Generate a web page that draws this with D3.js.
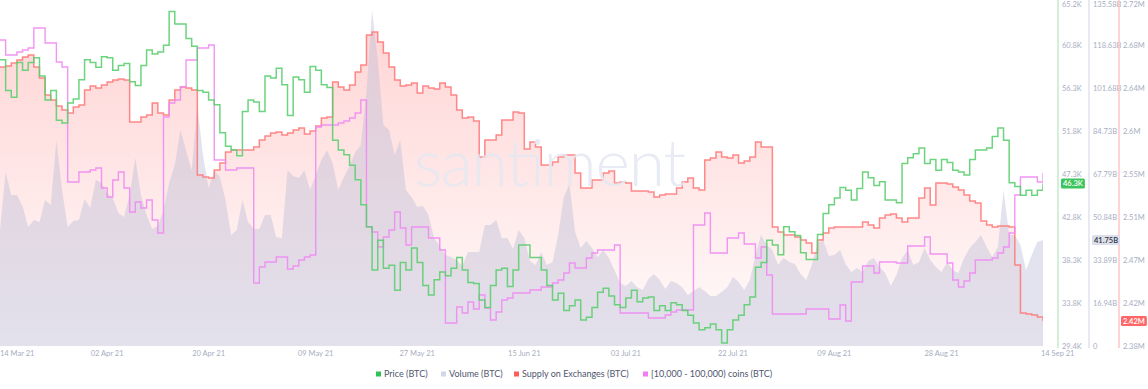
<!DOCTYPE html>
<html><head><meta charset="utf-8">
<script src="https://cdn.jsdelivr.net/npm/d3@7"></script>
<style>
html,body{margin:0;padding:0;background:#fff;}
svg{display:block;font-family:Lato,"Open Sans",sans-serif;}
</style></head><body>
<svg id="chart" width="1148" height="389"></svg>
<script>
// ---------- DATA ----------
const startDate = "2021-03-14";
const seriesNames = ["Price (BTC)", "Volume (BTC)", "Supply on Exchanges (BTC)", "[10,000 - 100,000) coins (BTC)"];

// Price, thousands USD
const price = [59.2,56.0,55.3,58.9,58.1,58.9,59.4,57.5,55.0,56.0,
52.9,52.6,54.7,55.1,57.1,59.2,58.9,58.4,59.5,59.4,
58.1,58.6,58.8,56.9,56.5,58.6,60.2,59.8,60.0,60.7,
64.2,62.9,62.9,61.4,60.6,56.0,55.8,55.0,54.5,51.6,
50.2,49.8,49.2,53.8,55.0,54.8,53.8,57.5,57.3,58.3,
56.6,53.4,57.4,57.1,55.8,58.5,58.1,56.6,56.3,50.8,
49.8,49.3,48.2,46.7,44.1,41.8,37.3,40.4,37.5,37.8,
35.2,38.1,37.3,39.6,38.1,35.7,34.7,36.3,37.1,36.7,
37.5,38.6,37.3,36.0,35.9,34.2,33.4,35.7,37.3,37.5,
35.6,37.3,39.9,39.9,38.6,38.6,37.3,35.7,34.2,34.9,
33.1,33.6,34.2,32.1,32.4,33.4,35.0,35.4,34.6,33.7,
33.4,34.4,35.2,34.0,34.4,34.5,33.1,33.6,33.1,33.9,
33.7,33.1,32.6,31.8,31.1,31.3,31.7,31.1,29.7,31.1,
32.1,32.6,33.7,34.5,37.6,38.1,40.4,39.9,38.9,41.8,
41.3,40.9,39.1,38.4,38.4,41.0,43.2,44.1,44.8,45.9,
45.6,44.6,45.8,47.5,46.9,46.1,46.5,44.6,44.6,44.3,
48.4,49.0,49.4,50.0,48.4,48.8,47.7,48.8,48.5,47.7,
47.5,47.2,48.8,49.8,49.8,50.0,51.2,52.1,50.8,46.4,
46.0,45.1,45.6,45.1,45.6,46.3];

// Volume, billions
const volume = [45.7,68.6,59.5,59.5,55.2,46.9,49.7,48.9,57.5,55.6,
81.2,61.5,46.9,49.3,49.7,57.9,54.4,65.4,64.2,60.3,
58.3,52.4,50.8,59.5,74.1,59.5,51.6,46.1,47.3,53.6,
64.2,71.3,85.1,77.2,69.3,95.0,75.3,62.3,69.3,66.6,
57.5,43.7,45.7,57.5,48.9,46.1,46.1,51.6,51.6,42.9,
42.6,69.3,67.0,66.2,69.3,61.5,67.4,73.3,77.2,72.1,
61.5,66.6,70.9,76.4,79.2,100.1,132.4,112.7,87.1,85.1,
75.3,81.2,61.5,58.7,54.8,55.2,51.6,42.6,39.4,35.9,
35.1,33.9,31.5,37.0,37.0,37.0,47.7,47.7,49.7,42.6,
42.6,38.2,45.7,42.6,33.5,31.9,37.0,31.9,33.1,43.7,
58.7,63.8,44.9,38.6,41.4,38.6,35.1,37.8,34.7,29.9,
24.8,23.6,25.6,23.2,22.1,26.4,28.4,26.0,22.5,25.6,
24.8,23.2,20.1,21.7,23.2,21.7,19.7,19.7,21.3,23.2,
27.2,25.2,22.1,26.0,35.9,43.7,39.8,37.8,31.9,34.7,
33.1,32.3,28.4,26.0,31.9,40.6,41.8,35.5,35.9,37.8,
32.3,29.2,30.7,29.2,33.5,34.7,31.1,28.8,23.6,28.0,
34.7,37.8,31.9,33.1,38.6,33.9,31.1,29.2,33.1,29.9,
28.8,34.7,38.6,41.0,43.7,39.0,35.1,39.0,61.5,43.7,
43.7,39.8,29.9,35.9,41.0,41.75];

// Supply on exchanges, millions
const supply = [2.659,2.660,2.663,2.666,2.669,2.671,2.659,2.648,2.631,2.626,
2.620,2.616,2.613,2.619,2.621,2.636,2.640,2.638,2.641,2.644,
2.646,2.647,2.646,2.604,2.604,2.609,2.611,2.623,2.613,2.611,
2.626,2.636,2.639,2.638,2.636,2.551,2.549,2.548,2.556,2.563,
2.574,2.576,2.576,2.576,2.576,2.579,2.586,2.590,2.593,2.594,
2.591,2.593,2.596,2.598,2.592,2.595,2.600,2.608,2.609,2.644,
2.639,2.636,2.641,2.654,2.661,2.691,2.694,2.684,2.673,2.659,
2.646,2.640,2.641,2.643,2.633,2.640,2.638,2.637,2.643,2.639,
2.631,2.616,2.608,2.609,2.605,2.569,2.586,2.586,2.591,2.606,
2.606,2.614,2.613,2.577,2.584,2.579,2.561,2.561,2.564,2.569,
2.571,2.571,2.553,2.538,2.538,2.546,2.546,2.553,2.555,2.543,
2.544,2.543,2.535,2.535,2.535,2.534,2.529,2.531,2.532,2.532,
2.538,2.544,2.548,2.538,2.536,2.566,2.568,2.574,2.569,2.568,
2.571,2.563,2.565,2.569,2.584,2.579,2.579,2.499,2.494,2.491,
2.491,2.489,2.486,2.483,2.473,2.486,2.493,2.498,2.499,2.499,
2.499,2.499,2.499,2.504,2.501,2.498,2.508,2.511,2.512,2.508,
2.504,2.508,2.508,2.528,2.538,2.521,2.543,2.543,2.542,2.539,
2.536,2.531,2.525,2.523,2.505,2.501,2.499,2.500,2.500,2.499,
2.461,2.413,2.412,2.411,2.409,2.405];

// [10,000 - 100,000) coins holdings, millions
const whales = [2.306,2.291,2.291,2.294,2.296,2.298,2.318,2.318,2.303,2.303,
2.284,2.279,2.164,2.164,2.174,2.174,2.176,2.178,2.158,2.149,
2.166,2.174,2.158,2.134,2.144,2.138,2.146,2.126,2.113,2.229,
2.243,2.246,2.259,2.286,2.286,2.298,2.298,2.301,2.186,2.186,
2.176,2.176,2.178,2.178,2.178,2.063,2.079,2.084,2.084,2.089,
2.089,2.077,2.080,2.086,2.089,2.091,2.219,2.221,2.221,2.221,
2.223,2.225,2.228,2.233,2.246,2.119,2.114,2.099,2.109,2.116,
2.134,2.118,2.101,2.119,2.119,2.119,2.108,2.108,2.096,2.023,
2.023,2.039,2.033,2.044,2.037,2.051,2.038,2.026,2.034,2.046,
2.048,2.053,2.053,2.053,2.056,2.056,2.059,2.059,2.063,2.066,
2.073,2.083,2.078,2.078,2.088,2.093,2.096,2.096,2.096,2.101,
2.033,2.033,2.033,2.033,2.033,2.028,2.028,2.028,2.031,2.034,
2.036,2.036,2.036,2.121,2.121,2.133,2.093,2.093,2.093,2.108,
2.108,2.113,2.102,2.102,2.088,2.099,2.071,2.032,2.032,2.032,
2.032,2.032,2.032,2.037,2.037,2.037,2.037,2.027,2.027,2.041,
2.025,2.064,2.064,2.080,2.080,2.073,2.084,2.084,2.084,2.083,
2.083,2.100,2.100,2.100,2.109,2.092,2.092,2.092,2.083,2.066,
2.059,2.065,2.073,2.086,2.086,2.086,2.088,2.093,2.099,2.113,
2.151,2.169,2.169,2.169,2.164,2.173];

const xTickDates = ["2021-03-14","2021-04-02","2021-04-20","2021-05-09","2021-05-27","2021-06-15","2021-07-03","2021-07-22","2021-08-09","2021-08-28","2021-09-14"];
const xTickLabels = ["14 Mar 21","02 Apr 21","20 Apr 21","09 May 21","27 May 21","15 Jun 21","03 Jul 21","22 Jul 21","09 Aug 21","28 Aug 21","14 Sep 21"];

const priceTicks = [29.4,33.875,38.35,42.825,47.3,51.775,56.25,60.725,65.2];
const priceTickLabels = ["29.4K","33.8K","38.3K","42.8K","47.3K","51.8K","56.3K","60.8K","65.2K"];
const volumeTicks = [0,16.9475,33.895,50.8425,67.79,84.7375,101.685,118.6325,135.58];
const volumeTickLabels = ["0","16.94B","33.89B","50.84B","67.79B","84.73B","101.68B","118.63B","135.58B"];
const supplyTicks = [2.38,2.423,2.466,2.509,2.552,2.595,2.638,2.681,2.724];
const supplyTickLabels = ["2.38M","2.42M","2.47M","2.51M","2.55M","2.6M","2.64M","2.68M","2.72M"];
const lastLabels = ["46.3K","41.75B","2.42M"];

// ---------- LAYOUT ----------
const W = 1148, H = 389;
const plot = {left: 0, right: 1043, top: 2, bottom: 346};
const colors = {price: "#5ccf70", volume: "#d3d5e6", supply: "#ff7474", whales: "#f08af3"};

const svg = d3.select("#chart");
const parse = d3.timeParse("%Y-%m-%d");
const t0 = parse(startDate);
const dates = price.map((_, i) => d3.timeDay.offset(t0, i));
const rows = dates.map((d, i) => ({date: d, price: price[i], volume: volume[i], supply: supply[i], whales: whales[i]}));

const x = d3.scaleTime().domain([dates[0], dates[dates.length - 1]]).range([plot.left, plot.right]);
const yPrice = d3.scaleLinear().domain([priceTicks[0], priceTicks[priceTicks.length-1]]).range([plot.bottom, plot.top]);
const yVol = d3.scaleLinear().domain([0, volumeTicks[volumeTicks.length-1]]).range([plot.bottom, plot.top]);
const ySup = d3.scaleLinear().domain([supplyTicks[0], supplyTicks[supplyTicks.length-1]]).range([plot.bottom, plot.top]);
const yWh = d3.scaleLinear().domain([2.0, 2.344]).range([plot.bottom, plot.top]);

const defs = svg.append("defs");
const grad = defs.append("linearGradient").attr("id", "supGrad")
  .attr("gradientUnits", "userSpaceOnUse").attr("x1", 0).attr("x2", 0).attr("y1", plot.top).attr("y2", plot.bottom);
grad.append("stop").attr("offset", "0%").attr("stop-color", "#ff6b6b").attr("stop-opacity", 0.30);
grad.append("stop").attr("offset", "60%").attr("stop-color", "#ff6b6b").attr("stop-opacity", 0.14);
grad.append("stop").attr("offset", "100%").attr("stop-color", "#ff6b6b").attr("stop-opacity", 0.02);
defs.append("clipPath").attr("id", "plotClip").append("rect")
  .attr("x", plot.left).attr("y", 0).attr("width", plot.right - plot.left).attr("height", plot.bottom);

const g = svg.append("g").attr("clip-path", "url(#plotClip)");

// supply fill
g.append("path").datum(rows)
  .attr("d", d3.area().curve(d3.curveStepAfter).x(d => x(d.date)).y0(plot.bottom).y1(d => ySup(d.supply)))
  .attr("fill", "url(#supGrad)");

// volume area
g.append("path").datum(rows)
  .attr("d", d3.area().curve(d3.curveLinear).x(d => x(d.date)).y0(plot.bottom).y1(d => yVol(d.volume)))
  .attr("fill", "#b9bcd6").attr("fill-opacity", 0.42);

// watermark
svg.append("text").attr("x", 414).attr("y", 186).attr("font-size", 66).attr("font-weight", 300)
  .attr("textLength", 272).attr("fill", "#e4e7f1").attr("fill-opacity", 0.85)
  .attr("font-family", "Lato, sans-serif").text("santiment");

// lines
const stepLine = key => d3.line().curve(d3.curveStepAfter).x(d => x(d.date)).y(d => key(d));
g.append("path").datum(rows).attr("d", stepLine(d => ySup(d.supply)))
  .attr("fill", "none").attr("stroke", colors.supply).attr("stroke-width", 1.5).attr("stroke-opacity", 0.85);
g.append("path").datum(rows).attr("d", stepLine(d => yWh(d.whales)))
  .attr("fill", "none").attr("stroke", colors.whales).attr("stroke-width", 1.4).attr("stroke-opacity", 0.9);
g.append("path").datum(rows).attr("d", stepLine(d => yPrice(d.price)))
  .attr("fill", "none").attr("stroke", colors.price).attr("stroke-width", 1.5).attr("stroke-opacity", 0.9);

// right axes
const axes = [
  {x: 1058, color: "#c3ebcb", ticks: priceTicks, labels: priceTickLabels, scale: yPrice},
  {x: 1089, color: "#e1e3ef", ticks: volumeTicks, labels: volumeTickLabels, scale: yVol},
  {x: 1119, color: "#ffc6c6", ticks: supplyTicks, labels: supplyTickLabels, scale: ySup}
];
axes.forEach(a => {
  svg.append("line").attr("x1", a.x).attr("x2", a.x).attr("y1", 0).attr("y2", plot.bottom + 2)
    .attr("stroke", a.color).attr("stroke-width", 1.5);
  svg.append("g").selectAll("text").data(a.ticks).join("text")
    .attr("x", a.x + 4).attr("y", d => Math.max(a.scale(d), 4.5)).attr("dy", "0.35em")
    .attr("font-size", 7.5).attr("fill", "#a7aec2").text((d, i) => a.labels[i]);
});

// last value badges
const last = rows[rows.length - 1];
const badges = [
  {x: 1061, y: yPrice(last.price), bg: "#3cc45d", fg: "#ffffff", text: lastLabels[0]},
  {x: 1092, y: yVol(last.volume), bg: "#dcdeea", fg: "#2f3347", text: lastLabels[1]},
  {x: 1121, y: ySup(last.supply), bg: "#ff6767", fg: "#ffffff", text: lastLabels[2]}
];
badges.forEach(b => {
  const bg = svg.append("g");
  const t = bg.append("text").attr("x", b.x + 2).attr("y", b.y).attr("dy", "0.35em")
    .attr("font-size", 7.5).attr("font-weight", 600).attr("fill", b.fg).text(b.text);
  const w = t.node().getComputedTextLength();
  bg.insert("rect", "text").attr("x", b.x).attr("y", b.y - 5).attr("width", w + 4).attr("height", 10)
    .attr("rx", 1.5).attr("fill", b.bg);
});

// x axis labels
const xl = svg.append("g");
xTickDates.forEach((ds, i) => {
  const d = parse(ds);
  let px = x(d), anchor = "middle";
  if (i === 0) { px = plot.left; anchor = "start"; }
  if (i === xTickDates.length - 1) { px = plot.right - 2; anchor = "start"; }
  xl.append("text").attr("x", px).attr("y", 356).attr("text-anchor", anchor)
    .attr("font-size", 7.5).attr("fill", "#a7aec2").text(xTickLabels[i]);
});

// legend
const legendColors = ["#2fc255", "#d3d6e8", "#ff5c5c", "#f27cf5"];
const legendX = [376, 441, 514, 643];
const lg = svg.append("g");
seriesNames.forEach((n, i) => {
  lg.append("rect").attr("x", legendX[i]).attr("y", 371.5).attr("width", 5).attr("height", 5).attr("fill", legendColors[i]);
  lg.append("text").attr("x", legendX[i] + 8).attr("y", 374).attr("dy", "0.35em")
    .attr("font-size", 9).attr("fill", "#4f566e").text(n);
});
</script>
</body></html>
